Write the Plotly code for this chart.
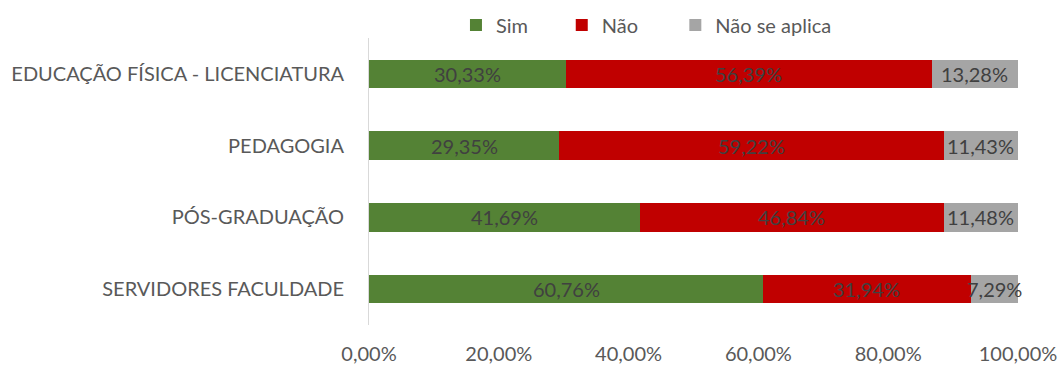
import plotly.graph_objects as go

categories = [
    "EDUCAÇÃO FÍSICA - LICENCIATURA",
    "PEDAGOGIA",
    "PÓS-GRADUAÇÃO",
    "SERVIDORES FACULDADE",
]
sim = [30.33, 29.35, 41.69, 60.76]
nao = [56.39, 59.22, 46.84, 31.94]
nao_se_aplica = [13.28, 11.43, 11.48, 7.29]
x_ticks = [0, 20, 40, 60, 80, 100]

series = [
    ("Sim", sim, "#548235"),
    ("Não", nao, "#C00000"),
    ("Não se aplica", nao_se_aplica, "#A5A5A5"),
]
# one legend box per series, spread along the top
legend_ids = ["legend", "legend2", "legend3"]
legend_x = [0.134, 0.297, 0.472]

FONT = "Lato"
SIZE = 20


def pct(v):
    return f"{v:.2f}%".replace(".", ",")


fig = go.Figure()
offsets = [0.0] * len(categories)
annotations = []
for (name, vals, color), lid in zip(series, legend_ids):
    fig.add_trace(go.Bar(
        y=categories,
        x=vals,
        name=name,
        orientation="h",
        legend=lid,
        showlegend=True,
        marker=dict(color=color, line=dict(width=0)),
        hoverinfo="x+y+name",
    ))
    # value labels centred on each segment
    for i, (cat, v) in enumerate(zip(categories, vals)):
        annotations.append(dict(
            x=offsets[i] + v / 2, y=cat, xref="x", yref="y",
            text=pct(v), showarrow=False,
            font=dict(family=FONT, size=SIZE, color="#404040"),
        ))
        offsets[i] += v

legend_style = dict(
    orientation="h",
    xanchor="left",
    y=1.045, yanchor="middle",
    font=dict(family=FONT, size=SIZE, color="#595959"),
    itemwidth=30,
    bgcolor="rgba(0,0,0,0)",
)

fig.update_layout(
    width=1062,
    height=365,
    barmode="stack",
    bargap=0.6,
    showlegend=True,
    plot_bgcolor="white",
    paper_bgcolor="white",
    margin=dict(l=369, r=44, t=38, b=40, autoexpand=False),
    font=dict(family=FONT, size=SIZE, color="#595959"),
    annotations=annotations,
    xaxis=dict(
        range=[0, 100],
        tickvals=x_ticks,
        ticktext=[pct(t) for t in x_ticks],
        showgrid=False,
        zeroline=False,
        showline=False,
        ticks="",
        ticklabelstandoff=15,
        tickfont=dict(family=FONT, size=SIZE, color="#595959"),
    ),
    yaxis=dict(
        categoryorder="array",
        categoryarray=categories[::-1],
        showgrid=False,
        zeroline=False,
        showline=True,
        linecolor="#D9D9D9",
        linewidth=1,
        ticks="",
        ticklabelstandoff=20,
        tickfont=dict(family=FONT, size=SIZE, color="#595959"),
    ),
)
for lid, lx in zip(legend_ids, legend_x):
    fig.update_layout({lid: dict(legend_style, x=lx)})

fig.write_html("out.html")
